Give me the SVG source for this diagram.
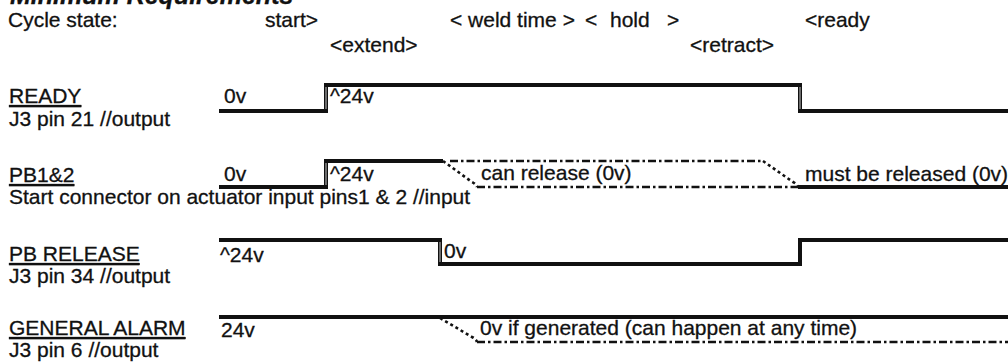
<svg xmlns="http://www.w3.org/2000/svg" width="1008" height="363" viewBox="0 0 1008 363">
  <style>
    text { font-family: "Liberation Sans", Arial, Helvetica, sans-serif; font-size: 21px; fill: #111; stroke: #111; stroke-width: 0.3; }
    .title { font-weight: bold; font-style: italic; font-size: 25px; }
    .name { text-decoration: underline; }
    .wave { fill: none; stroke: #111; stroke-width: 4; stroke-linejoin: miter; stroke-linecap: butt; }
    .edge { fill: none; stroke: #c8c8c8; stroke-width: 1; }
    .maybe { fill: none; stroke: #111; stroke-width: 2.6; stroke-dasharray: 8 3 2.5 3; }
    .slope { fill: none; stroke: #111; stroke-width: 2.6; stroke-dasharray: 3 3; }
  </style>

  <!-- heading and cycle phases -->
  <g id="header">
    <text class="title" x="10" y="4">Minimum Requirements</text>
    <text x="8" y="27">Cycle state:</text>
    <text x="265" y="27">start&gt;</text>
    <text x="330" y="52">&lt;extend&gt;</text>
    <text y="27"><tspan x="450">&lt; weld time &gt;</tspan> <tspan x="585">&lt;</tspan> <tspan x="610">hold</tspan> <tspan x="667">&gt;</tspan></text>
    <text x="690" y="52">&lt;retract&gt;</text>
    <text x="805" y="27">&lt;ready</text>
  </g>

  <!-- READY output -->
  <g id="ready">
    <text class="name" x="9" y="103">READY</text>
    <text x="9" y="126">J3 pin 21 //output</text>
    <path class="wave" d="M219,111 H326 V85 H800 V111 H1008"/>
    <path class="edge" d="M326,87 V109 M800,87 V109"/>
    <text x="224" y="103">0v</text>
    <text x="330" y="103">^24v</text>
  </g>

  <!-- PB1&2 start input -->
  <g id="pb12">
    <text class="name" x="9" y="182">PB1&amp;2</text>
    <text x="9" y="204">Start connector on actuator input pins1 &amp; 2 //input</text>
    <path class="wave" d="M219,187 H326 V161 H443"/>
    <path class="edge" d="M326,163 V185"/>
    <path class="slope" d="M443,161 L472,182 Q476,184 477,187"/>
    <path class="maybe" d="M450,161 H763"/>
    <path class="maybe" d="M477,187 H798"/>
    <path class="slope" d="M763,161 L793,182 Q797,184 798,187"/>
    <path class="wave" d="M798,187 H1008"/>
    <text x="224" y="181">0v</text>
    <text x="330" y="181">^24v</text>
    <text x="481" y="180">can release (0v)</text>
    <text x="805" y="181">must be released (0v)</text>
  </g>

  <!-- PB RELEASE output -->
  <g id="pb-release">
    <text class="name" x="9" y="261">PB RELEASE</text>
    <text x="9" y="283">J3 pin 34 //output</text>
    <path class="wave" d="M219,240 H440 V264 H800 V240 H1008"/>
    <path class="edge" d="M440,242 V262"/>
    <text x="220" y="262">^24v</text>
    <text x="444" y="258">0v</text>
  </g>

  <!-- GENERAL ALARM output -->
  <g id="general-alarm">
    <text class="name" x="9" y="335">GENERAL ALARM</text>
    <text x="9" y="357">J3 pin 6 //output</text>
    <path class="wave" d="M219,317 H1008"/>
    <path class="slope" d="M440,318 L472,337 Q476,339 477,342"/>
    <path class="maybe" d="M477,342 H1008"/>
    <text x="221" y="337">24v</text>
    <text x="480" y="335">0v if generated (can happen at any time)</text>
  </g>
</svg>
